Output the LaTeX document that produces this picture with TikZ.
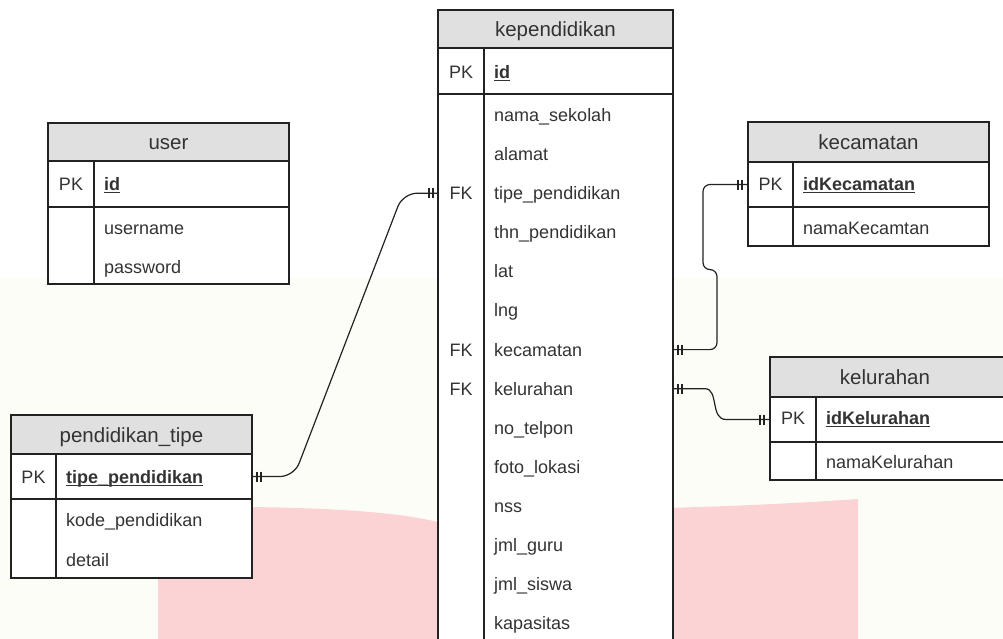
\documentclass[tikz,border=0pt]{standalone}
\usepackage{fontspec}
\setmainfont{Liberation Sans}
\usetikzlibrary{calc}
\definecolor{linecol}{RGB}{34,34,34}
\definecolor{txtcol}{RGB}{51,51,51}
\definecolor{hdrcol}{RGB}{224,224,224}
\definecolor{creamcol}{RGB}{253,253,247}
\definecolor{pinkcol}{RGB}{252,211,213}
\newcommand\rowfont{\fontsize{18pt}{20pt}\selectfont}
\newcommand\hdrfont{\fontsize{20.5pt}{23pt}\selectfont}
\newcommand\pkfield[1]{\setbox0=\hbox{\bfseries #1}\rlap{\rule[-2.6pt]{\wd0}{1.1pt}}\box0}
\begin{document}
\begin{tikzpicture}[x=1pt,y=-1pt,
  tbox/.style={draw=linecol, line width=1.3pt, fill=white, inner sep=0pt, outer sep=0pt, anchor=north west},
  hbox/.style={tbox, fill=hdrcol},
  rtxt/.style={anchor=west, inner sep=0pt, text=txtcol, font=\rowfont, text height=12.9pt, text depth=0pt},
  ctxt/.style={anchor=center, inner sep=0pt, text=txtcol, font=\rowfont, text height=12.9pt, text depth=0pt},
  htxt/.style={anchor=center, inner sep=0pt, text=txtcol, font=\hdrfont, text height=14.7pt, text depth=0pt},
  divl/.style={draw=linecol, line width=1.3pt},
  conn/.style={draw=linecol, line width=1.2pt},
  bar/.style={draw=linecol, line width=1.2pt}]
\useasboundingbox (0,0) rectangle (1003,638);
\clip (0,0) rectangle (1003,638);
% backgrounds
\fill[white] (0,0) rectangle (1003,638);
\fill[creamcol] (0,278) rectangle (1003,640);
\fill[pinkcol] (158,640) -- (158,516) .. controls (158,508) and (200,506) .. (250,507) .. controls (330,508) and (405,512) .. (445,524) -- (445,640) -- cycle;
\fill[pinkcol] (665,508) .. controls (740,506) and (800,503) .. (858,499) -- (858,640) -- (665,640) -- cycle;

% user
\node[hbox, minimum width=241pt, minimum height=38pt] (userH) at (48,123) {};
\node[tbox, minimum width=241pt, minimum height=46pt] (userK) at (48,161) {};
\node[tbox, minimum width=241pt, minimum height=77pt] (userA) at (48,207) {};
\draw[divl] ($(userK.north west)+(46,0)$) -- ($(userA.south west)+(46,0)$);
\node[htxt] (userT) at (168.5,142) {user};
\node[ctxt] (userPK) at (71,184) {PK};
\node[rtxt] (userId) at (104,184) {\pkfield{id}};
\node[rtxt] (userU) at (104,228) {username};
\node[rtxt] (userP) at (104,267) {password};

% kependidikan
\node[hbox, minimum width=235pt, minimum height=38pt] (kepH) at (438,10) {};
\node[tbox, minimum width=235pt, minimum height=46pt] (kepK) at (438,48) {};
\node[tbox, minimum width=235pt, minimum height=580pt] (kepA) at (438,94) {};
\draw[divl] ($(kepK.north west)+(46,0)$) -- ($(kepA.south west)+(46,0)$);
\node[htxt] (kepT) at (555.5,29) {kependidikan};
\node[ctxt] (kepPK) at (461,72) {PK};
\node[rtxt] (kepId) at (494,72) {\pkfield{id}};
\foreach \n [count=\i from 0] in {nama\_sekolah, alamat, tipe\_pendidikan, thn\_pendidikan, lat, lng, kecamatan, kelurahan, no\_telpon, foto\_lokasi, nss, jml\_guru, jml\_siswa, kapasitas}
  \node[rtxt] (k\i) at (494,{115+39.1*\i}) {\n};
\node[ctxt] (fk1) at ($(k2.west)+(-33,0)$) {FK};
\node[ctxt] (fk2) at ($(k6.west)+(-33,0)$) {FK};
\node[ctxt] (fk3) at ($(k7.west)+(-33,0)$) {FK};

% kecamatan
\node[hbox, minimum width=241pt, minimum height=40pt] (kecH) at (748,122) {};
\node[tbox, minimum width=241pt, minimum height=45pt] (kecK) at (748,162) {};
\node[tbox, minimum width=241pt, minimum height=39pt] (kecA) at (748,207) {};
\draw[divl] ($(kecK.north west)+(45,0)$) -- ($(kecA.south west)+(45,0)$);
\node[htxt] (kecT) at (868.5,142) {kecamatan};
\node[ctxt] (kecPK) at (770.5,184) {PK};
\node[rtxt] (kecId) at (803,184) {\pkfield{idKecamatan}};
\node[rtxt] (kecN) at (803,228) {namaKecamtan};

% kelurahan
\node[hbox, minimum width=241pt, minimum height=40pt] (kelH) at (770,357) {};
\node[tbox, minimum width=241pt, minimum height=45pt] (kelK) at (770,397) {};
\node[tbox, minimum width=241pt, minimum height=38pt] (kelA) at (770,442) {};
\draw[divl] ($(kelK.north west)+(46,0)$) -- ($(kelA.south west)+(46,0)$);
\node[htxt] (kelT) at (885,377) {kelurahan};
\node[ctxt] (kelPK) at (793,418) {PK};
\node[rtxt] (kelId) at (826,418) {\pkfield{idKelurahan}};
\node[rtxt] (kelN) at (826,462) {namaKelurahan};

% pendidikan_tipe
\node[hbox, minimum width=241pt, minimum height=39pt] (ptH) at (11,415) {};
\node[tbox, minimum width=241pt, minimum height=45pt] (ptK) at (11,454) {};
\node[tbox, minimum width=241pt, minimum height=79pt] (ptA) at (11,499) {};
\draw[divl] ($(ptK.north west)+(45,0)$) -- ($(ptA.south west)+(45,0)$);
\node[htxt] (ptT) at (131.5,435) {pendidikan\_tipe};
\node[ctxt] (ptPK) at (33.5,477) {PK};
\node[rtxt] (ptId) at (66,477) {\pkfield{tipe\_pendidikan}};
\node[rtxt] (ptC) at (66,520) {kode\_pendidikan};
\node[rtxt] (ptD) at (66,560) {detail};

% connectors
\coordinate (cT1) at (kepA.west |- k2);
\coordinate (cT2) at (ptK.east);
\draw[conn, rounded corners=14pt] (cT1) -- ($(cT1)+(-35,0)$) -- ($(cT2)+(42,0)$) -- (cT2);
\draw[bar] ($(cT1)+(-5,-5)$) -- ++(0,10) ($(cT1)+(-9,-5)$) -- ++(0,10);
\draw[bar] ($(cT2)+(5,-5)$) -- ++(0,10) ($(cT2)+(9,-5)$) -- ++(0,10);

\coordinate (cK1) at (kepA.east |- k6);
\coordinate (cK2) at (kecK.west);
\draw[conn, rounded corners=7pt] (cK1) -- ($(cK1)+(44,0)$) -- ($(cK1)+(44,-80)$) -- ($(cK1)+(30,-80)$) |- (cK2);
\draw[bar] ($(cK1)+(5,-5)$) -- ++(0,10) ($(cK1)+(9,-5)$) -- ++(0,10);
\draw[bar] ($(cK2)+(-6,-5)$) -- ++(0,10) ($(cK2)+(-10,-5)$) -- ++(0,10);

\coordinate (cL1) at (kepA.east |- k7);
\coordinate (cL2) at (kelK.west);
\draw[conn] (cL1) -- ($(cL1)+(32,0)$) .. controls ($(cL1)+(46,0)$) and ($(cL2)+(-60,0)$) .. ($(cL2)+(-44,0)$) -- (cL2);
\draw[bar] ($(cL1)+(5,-5)$) -- ++(0,10) ($(cL1)+(9,-5)$) -- ++(0,10);
\draw[bar] ($(cL2)+(-6,-5)$) -- ++(0,10) ($(cL2)+(-10,-5)$) -- ++(0,10);
\end{tikzpicture}
\end{document}
